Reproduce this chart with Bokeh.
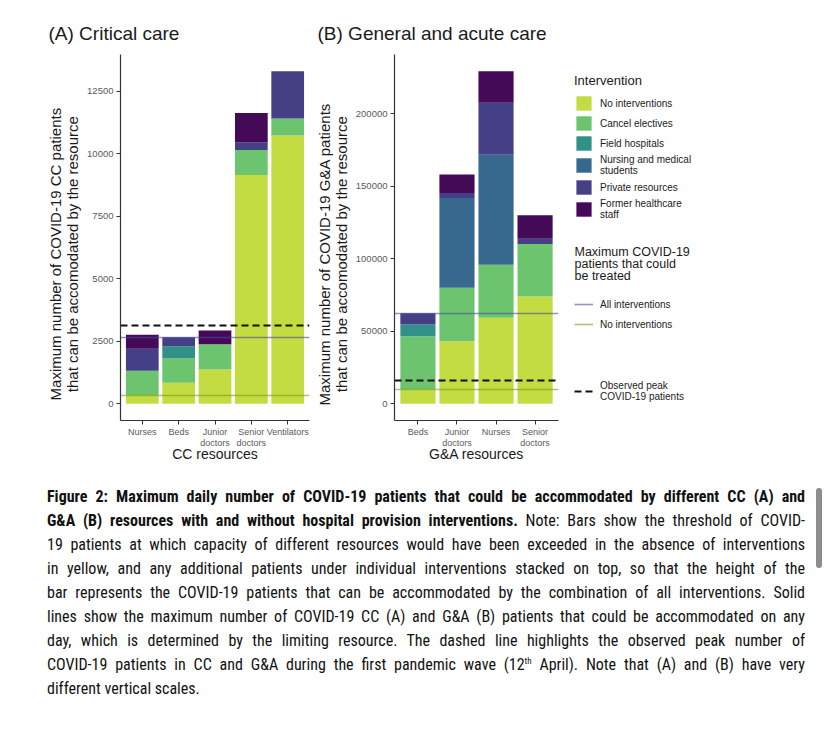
import numpy as np
from bokeh.plotting import figure
from bokeh.models import (FactorRange, Range1d, Legend, LegendItem, ColumnDataSource,
                          Div, FixedTicker, BasicTickFormatter, Label)
from bokeh.layouts import row, column
from bokeh.embed import file_html
from bokeh.resources import INLINE

# ---------------- data ----------------
interventions = ["No interventions", "Cancel electives", "Field hospitals",
                 "Nursing and medical students", "Private resources", "Former healthcare staff"]
legend_labels = ["No interventions", "Cancel electives", "Field hospitals",
                 "Nursing and medical\nstudents", "Private resources", "Former healthcare\nstaff"]
colors = ["#c3dc42", "#6cc56e", "#2f9188", "#37698e", "#453f86", "#440a58"]

cc_resources = ["Nurses", "Beds", "Junior\ndoctors", "Senior\ndoctors", "Ventilators"]
cc_no_interventions = [350, 840, 1375, 9160, 10740]
cc_cancel_electives = [970, 985, 1010, 1000, 680]
cc_field_hospitals = [0, 480, 0, 0, 0]
cc_nursing_students = [0, 0, 0, 0, 0]
cc_private_resources = [880, 360, 0, 310, 1890]
cc_former_staff = [560, 0, 550, 1170, 0]
cc_observed_peak = 3130
cc_y_ticks = [0, 2500, 5000, 7500, 10000, 12500]

ga_resources = ["Beds", "Junior\ndoctors", "Nurses", "Senior\ndoctors"]
ga_no_interventions = [10000, 43200, 59300, 74000]
ga_cancel_electives = [36600, 36800, 36600, 36300]
ga_field_hospitals = [8100, 0, 0, 0]
ga_nursing_students = [0, 62000, 75800, 0]
ga_private_resources = [7800, 3300, 35900, 3500]
ga_former_staff = [0, 12900, 21800, 16300]
ga_observed_peak = 15900
ga_y_ticks = [0, 50000, 100000, 150000, 200000]

line_legend_title = "Maximum COVID-19\npatients that could\nbe treated"
line_legend_labels = ["All interventions", "No interventions"]
peak_legend_label = "Observed peak\nCOVID-19 patients"

caption_lines = [
    "<b>Figure 2: Maximum daily number of COVID-19 patients that could be accommodated by different CC (A) and</b>",
    "<b>G&amp;A (B) resources with and without hospital provision interventions.</b> Note: Bars show the threshold of COVID-",
    "19 patients at which capacity of different resources would have been exceeded in the absence of interventions",
    "in yellow, and any additional patients under individual interventions stacked on top, so that the height of the",
    "bar represents the COVID-19 patients that can be accommodated by the combination of all interventions. Solid",
    "lines show the maximum number of COVID-19 CC (A) and G&amp;A (B) patients that could be accommodated on any",
    "day, which is determined by the limiting resource. The dashed line highlights the observed peak number of",
    "COVID-19 patients in CC and G&amp;A during the first pandemic wave (12<sup style='font-size:9px;line-height:0;vertical-align:6px'>th</sup> April). Note that (A) and (B) have very",
    "different vertical scales.",
]

FONT = "Liberation Sans"
ALL_COLOR, ALL_ALPHA = "#4b4b9b", 0.6
NONE_COLOR, NONE_ALPHA = "#7a9a1a", 0.6
PEAK_COLOR = "#111111"
PAD = "\u00a0" * 8   # shifts the rotated axis title slightly downward as in the reference


def make_panel(resources, series, yticks, peak, title, xlabel, ylabel,
               width, min_left, min_right, title_offset):
    cols = {"resource": resources}
    for name, vals in zip(interventions, series):
        cols[name] = vals
    src = ColumnDataSource(cols)
    totals = np.sum(np.array(series), axis=0)
    ymax = float(totals.max())
    p = figure(x_range=FactorRange(factors=resources, range_padding=0.1,
                                   range_padding_units="absolute"),
               y_range=Range1d(-0.05 * ymax, 1.05 * ymax),
               width=width, height=479,
               min_border_left=min_left, min_border_right=min_right,
               min_border_top=54, min_border_bottom=59,
               output_backend="svg", toolbar_location=None, title=title)
    p.vbar_stack(interventions, x="resource", width=0.9, color=colors,
                 line_color=None, source=src)
    p.hspan(y=[float(totals.min())], line_color=ALL_COLOR, line_alpha=ALL_ALPHA, line_width=1.6)
    p.hspan(y=[float(min(series[0]))], line_color=NONE_COLOR, line_alpha=NONE_ALPHA, line_width=1.6)
    p.hspan(y=[peak], line_color=PEAK_COLOR, line_width=2.2, line_dash="7 4")

    p.title.text_font = FONT
    p.title.text_font_size = "19px"
    p.title.text_font_style = "normal"
    p.title.text_color = "#1a1a1a"
    p.title.align = "left"
    p.title.offset = title_offset
    p.title.standoff = 21

    p.xgrid.visible = False
    p.ygrid.visible = False
    p.outline_line_color = None
    for ax in (p.xaxis[0], p.yaxis[0]):
        ax.axis_line_color = "#333333"
        ax.axis_line_width = 1.2
        ax.major_tick_line_color = "#333333"
        ax.major_tick_out = 4
        ax.major_tick_in = 0
        ax.minor_tick_line_color = None
        ax.major_label_text_font = FONT
        ax.major_label_text_color = "#5a5a5a"
        ax.axis_label_text_font = FONT
        ax.axis_label_text_font_style = "normal"
        ax.axis_label_text_color = "#1a1a1a"
    p.yaxis[0].ticker = FixedTicker(ticks=yticks)
    p.yaxis[0].formatter = BasicTickFormatter(use_scientific=False)
    p.yaxis[0].major_label_text_font_size = "9.5px"
    p.yaxis[0].major_label_standoff = 3
    p.yaxis[0].axis_label = ylabel
    p.yaxis[0].axis_label_text_font_size = "15px"
    p.yaxis[0].axis_label_text_align = "center"
    p.yaxis[0].axis_label_text_line_height = 1.0
    p.yaxis[0].axis_label_standoff = 3
    p.xaxis[0].major_label_text_font_size = "9px"
    p.xaxis[0].major_label_text_line_height = 1.1
    p.xaxis[0].major_label_standoff = 2
    p.xaxis[0].axis_label = xlabel
    p.xaxis[0].axis_label_text_font_size = "14px"
    p.xaxis[0].axis_label_standoff = -5
    return p


pA = make_panel(cc_resources,
                [cc_no_interventions, cc_cancel_electives, cc_field_hospitals,
                 cc_nursing_students, cc_private_resources, cc_former_staff],
                cc_y_ticks, cc_observed_peak, "(A) Critical care", "CC resources",
                "Maximum number of COVID-19 CC patients" + PAD + "\nthat can be accomodated by the resource" + PAD,
                311, 120, 2, -72)

pB = make_panel(ga_resources,
                [ga_no_interventions, ga_cancel_electives, ga_field_hospitals,
                 ga_nursing_students, ga_private_resources, ga_former_staff],
                ga_y_ticks, ga_observed_peak, "(B) General and acute care", "G&A resources",
                "Maximum number of COVID-19 G&A patients" + PAD + "\nthat can be accomodated by the resource" + PAD,
                255, 83, 8, -77)

# ---------------- legend panel ----------------
pC = figure(width=261, height=479, x_range=Range1d(0, 1), y_range=Range1d(0, 1),
            x_axis_location=None, y_axis_location=None,
            min_border=0, output_backend="svg", toolbar_location=None)
pC.outline_line_color = None
pC.grid.visible = False
NAN = [float("nan")]
# key-only renderers (NaN data: nothing is drawn in the frame, only legend keys)
key_bars = [pC.vbar(x=NAN, top=NAN, width=0.9, fill_color=c, line_color=None) for c in colors]
r_all = pC.line(x=NAN, y=NAN, line_color=ALL_COLOR, line_alpha=ALL_ALPHA, line_width=1.6)
r_none = pC.line(x=NAN, y=NAN, line_color=NONE_COLOR, line_alpha=NONE_ALPHA, line_width=1.6)
r_peak = pC.line(x=NAN, y=NAN, line_color=PEAK_COLOR, line_width=2.2, line_dash="7 4")


def style_legend(leg):
    leg.padding = 0
    leg.margin = 0
    leg.spacing = 2
    leg.glyph_width = 19
    leg.glyph_height = 18
    leg.label_height = 18
    leg.label_standoff = 7
    leg.label_text_font = FONT
    leg.label_text_font_size = "10px"
    leg.label_text_line_height = 1.0
    leg.label_text_color = "#1a1a1a"
    leg.title_text_font = FONT
    leg.title_text_font_size = "13px"
    leg.title_text_font_style = "normal"
    leg.title_text_color = "#1a1a1a"
    leg.title_standoff = 6
    leg.border_line_color = None
    leg.background_fill_alpha = 0
    leg.inactive_fill_alpha = 0


leg1 = Legend(items=[LegendItem(label=lab, renderers=[r]) for lab, r in zip(legend_labels, key_bars)],
              title="Intervention", location=(8, 200))
leg2 = Legend(items=[LegendItem(label=line_legend_labels[0], renderers=[r_all]),
                     LegendItem(label=line_legend_labels[1], renderers=[r_none])],
              location=(8, 87))
leg3 = Legend(items=[LegendItem(label=peak_legend_label, renderers=[r_peak])],
              location=(8, 18))
for lg in (leg1, leg2, leg3):
    style_legend(lg)
    pC.add_layout(lg)

pC.add_layout(Label(x=8, y=176, x_units="screen", y_units="screen", text=line_legend_title,
                    text_font=FONT, text_font_size="12.5px", text_color="#1a1a1a",
                    text_baseline="top", text_align="left", text_line_height=0.88))

# ---------------- caption ----------------
parts = []
for i, ln in enumerate(caption_lines):
    last = i == len(caption_lines) - 1
    align = "left" if last else "justify"
    parts.append(
        f"<div style='width:758px;margin-left:47px;text-align:{align};"
        f"text-align-last:{align};height:24px;line-height:24px;white-space:normal;'>{ln}</div>")
html = ("<div style=\"position:relative;width:826px;height:240px;padding-top:6px;"
        "font-family:'Liberation Sans Narrow','Roboto Condensed','Open Sans',sans-serif;"
        "font-size:16px;color:#111;\">" + "".join(parts) +
        "<div style='position:absolute;left:816px;top:9px;width:6px;height:80px;"
        "background:#8d8d8d;border-radius:3px;'></div></div>")
caption = Div(text=html, width=826, height=240, margin=0)

layout = column(row(pA, pB, pC), caption)
open("out.html", "w").write(file_html(layout, INLINE))
